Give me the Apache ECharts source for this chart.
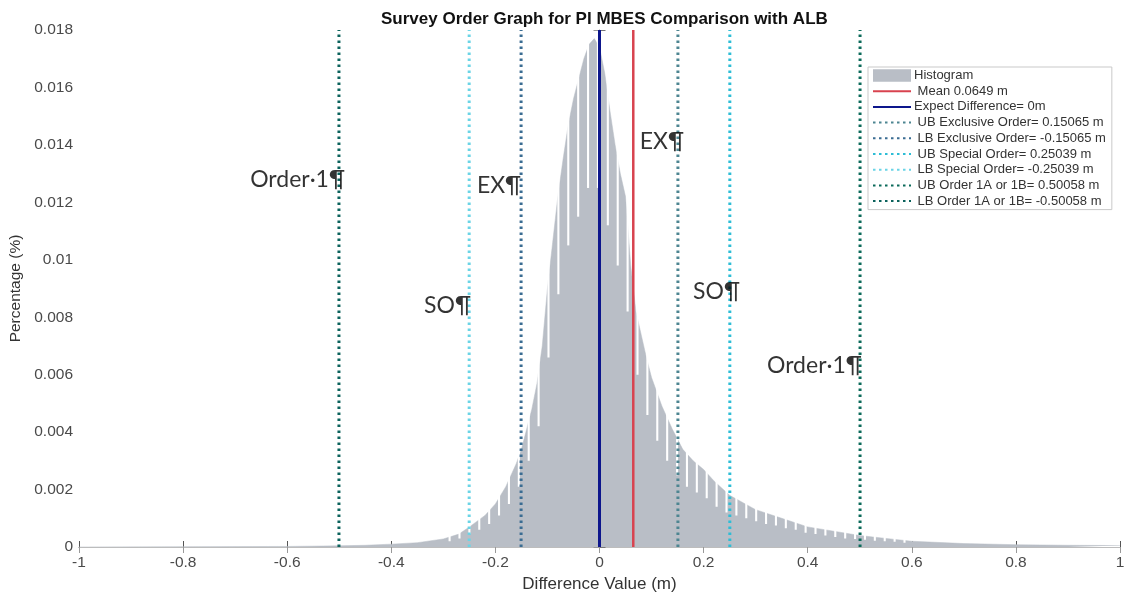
<!DOCTYPE html>
<html>
<head>
<meta charset="utf-8">
<script src="https://cdn.jsdelivr.net/npm/echarts@6/dist/echarts.min.js"></script>
<style>
  html, body { margin: 0; padding: 0; background: #fff; }
  #main { width: 1124px; height: 592px; }
</style>
</head>
<body>
<div id="main"></div>
<script>
// histogram envelope (difference value in m, percentage)
const histX = [-1.0, -0.6, -0.5, -0.45, -0.4, -0.35, -0.3, -0.27, -0.25, -0.22, -0.2, -0.18, -0.16, -0.15,
  -0.14, -0.13, -0.12, -0.11, -0.1, -0.09, -0.08, -0.07, -0.06, -0.05, -0.04, -0.03, -0.02, -0.01,
  0.0, 0.01, 0.02, 0.03, 0.04, 0.05, 0.06, 0.07, 0.08, 0.09, 0.1, 0.12, 0.14, 0.16, 0.18, 0.2,
  0.22, 0.25, 0.28, 0.3, 0.35, 0.4, 0.45, 0.5, 0.55, 0.6, 0.7, 0.8, 0.9, 1.0];
const histY = [0, 0.00002, 0.00004, 0.00006, 0.0001, 0.00015, 0.00028, 0.00045, 0.0007, 0.0011, 0.0015, 0.0021, 0.0029, 0.0034,
  0.0041, 0.0048, 0.0057, 0.007, 0.009, 0.0106, 0.0122, 0.0135, 0.0147, 0.0156, 0.0163, 0.017, 0.0175, 0.0177,
  0.0174, 0.0165, 0.0152, 0.014, 0.013, 0.0122, 0.0098, 0.0082, 0.0074, 0.0066, 0.0059, 0.0049, 0.0041, 0.0034, 0.003, 0.0027,
  0.0023, 0.0018, 0.0015, 0.0013, 0.001, 0.0007, 0.00055, 0.0004, 0.0003, 0.0002, 0.00012, 0.00008, 0.00006, 0.00005];

// near-empty bins that cut the comb pattern into the histogram
const notchX = [-0.288, -0.269, -0.25, -0.231, -0.212, -0.193, -0.174, -0.155, -0.136, -0.117, -0.098, -0.079,
  -0.06, -0.041, -0.022, -0.003, 0.016, 0.035, 0.054, 0.073, 0.092, 0.111, 0.13, 0.149, 0.168, 0.187,
  0.206, 0.225, 0.244, 0.263, 0.282, 0.301, 0.32, 0.339, 0.358, 0.377, 0.396, 0.415, 0.434, 0.453,
  0.472, 0.491, 0.51, 0.529, 0.548, 0.567, 0.586];
const notchY = [0.0002, 0.0003, 0.00045, 0.0006, 0.0008, 0.0011, 0.0015, 0.0021, 0.003, 0.0042, 0.0066, 0.0088,
  0.0105, 0.0115, 0.0125, 0.0125, 0.0112, 0.0098, 0.0082, 0.006, 0.0046, 0.0037, 0.003, 0.0025, 0.0021, 0.0019,
  0.0017, 0.0014, 0.0012, 0.0011, 0.001, 0.0009, 0.0008, 0.00075, 0.00065, 0.0006, 0.0005, 0.00045, 0.0004, 0.00035,
  0.0003, 0.00028, 0.00025, 0.00022, 0.0002, 0.00018, 0.00015];

// reference lines
const lineNames = [' Mean 0.0649 m', 'Expect Difference= 0m',
  ' UB Exclusive Order= 0.15065 m', ' LB Exclusive Order= -0.15065 m',
  ' UB Special Order= 0.25039 m', ' LB Special Order= -0.25039 m',
  ' UB Order 1A or 1B= 0.50058 m', ' LB Order 1A or 1B= -0.50058 m'];
const lineX = [0.0649, 0, 0.15065, -0.15065, 0.25039, -0.25039, 0.50058, -0.50058];
const lineColors = ['#d8434f', '#0d168c', '#4d8591', '#3a6c92', '#2dbdd6', '#6ad4e6', '#0b6a5a', '#0b625c'];

// hand-written notes on the figure
const noteText = ['Order·1¶', 'EX¶', 'SO¶', 'EX¶', 'SO¶', 'Order·1¶'];
const noteX = [-0.58, -0.193, -0.292, 0.12, 0.225, 0.413];
const noteY = [0.0128, 0.0126, 0.0084, 0.0141, 0.0089, 0.0063];

const yMax = 0.018;
const notchW = 0.004;

const chart = echarts.init(document.getElementById('main'));

const series = [];
series.push({
  name: 'Histogram',
  type: 'line',
  data: histX.map((x, i) => [x, histY[i]]),
  showSymbol: false,
  symbol: 'none',
  lineStyle: { width: 0.5, color: '#b9bec6' },
  itemStyle: { color: '#b9bec6' },
  areaStyle: { color: '#b9bec6', opacity: 1 },
  z: 1,
  silent: true
});
series.push({
  name: 'notches',
  type: 'custom',
  data: notchX.map((x, i) => [x, notchY[i]]),
  z: 2,
  silent: true,
  clip: true,
  renderItem: function (params, api) {
    const lo = api.coord([api.value(0), api.value(1)]);
    const hi = api.coord([api.value(0), yMax * 0.995]);
    const w = api.size([notchW, 0])[0];
    return {
      type: 'rect',
      shape: { x: lo[0] - w / 2, y: hi[1], width: w, height: lo[1] - hi[1] },
      style: { fill: '#ffffff' }
    };
  }
});
lineNames.forEach((name, i) => {
  const solid = i < 2;
  series.push({
    name: name,
    type: 'line',
    data: [[lineX[i], 0], [lineX[i], yMax]],
    symbol: 'none',
    z: 3,
    silent: true,
    itemStyle: { color: lineColors[i] },
    lineStyle: {
      color: lineColors[i],
      width: i === 0 ? 2.5 : 3,
      type: solid ? 'solid' : [2.5, 3.5]
    }
  });
});
series.push({
  name: 'notes',
  type: 'scatter',
  data: noteX.map((x, i) => ({ value: [x, noteY[i]], name: noteText[i] })),
  symbolSize: 1,
  itemStyle: { color: 'rgba(0,0,0,0)' },
  z: 6,
  silent: true,
  label: {
    show: true,
    position: 'inside',
    formatter: p => p.name,
    fontFamily: 'Lato',
    fontSize: 23,
    color: '#000'
  }
});

const option = {
  animation: false,
  backgroundColor: '#fff',
  title: {
    text: 'Survey Order Graph for PI MBES Comparison with ALB',
    left: 376,
    top: 6,
    textStyle: { fontFamily: 'Liberation Sans', fontSize: 17, fontWeight: 'bold', color: '#111' }
  },
  legend: {
    orient: 'vertical',
    left: 868,
    top: 67,
    padding: [2, 6, 2, 4],
    itemGap: 2.7,
    itemWidth: 38,
    itemHeight: 12.5,
    backgroundColor: '#fff',
    borderColor: '#c9c9c9',
    borderWidth: 1,
    itemStyle: { opacity: 0 },
    textStyle: { fontFamily: 'Liberation Sans', fontSize: 13, lineHeight: 12.5, color: '#333', padding: [0, 0, 0, -2] },
    data: [{ name: 'Histogram', icon: 'rect', itemStyle: { opacity: 1 } }].concat(lineNames.map(n => ({ name: n })))
  },
  grid: { left: 79, right: 4, top: 30, bottom: 45, outerBoundsMode: 'none', containLabel: false },
  xAxis: [{
    type: 'value',
    min: -1, max: 1, interval: 0.2,
    name: 'Difference Value (m)',
    nameLocation: 'middle',
    nameGap: 29,
    nameTextStyle: { fontFamily: 'Liberation Sans', fontSize: 17, color: '#333' },
    axisLine: { lineStyle: { color: '#8a8a8a', width: 1.2 } },
    axisTick: { inside: true, length: 6, lineStyle: { color: '#555' } },
    axisLabel: { fontFamily: 'Liberation Sans', fontSize: 15.5, color: '#4a4a4a', margin: 8 },
    splitLine: { show: false }
  }, {
    type: 'value',
    position: 'top',
    min: -1, max: 1, interval: 0.2,
    axisLine: { show: true, lineStyle: { color: '#bdbdbd' } },
    axisTick: { inside: true, length: 6, lineStyle: { color: '#999' } },
    axisLabel: { show: false },
    splitLine: { show: false }
  }],
  yAxis: [{
    type: 'value',
    min: 0, max: yMax, interval: 0.002,
    name: 'Percentage (%)',
    nameLocation: 'middle',
    nameGap: 51,
    nameTextStyle: { fontFamily: 'Liberation Sans', fontSize: 15.5, color: '#333' },
    axisLine: { show: true, lineStyle: { color: '#a8a8a8' } },
    axisTick: { show: true, inside: true, length: 6, lineStyle: { color: '#777' } },
    axisLabel: { fontFamily: 'Liberation Sans', fontSize: 15.5, color: '#4a4a4a', margin: 6 },
    splitLine: { show: false }
  }, {
    type: 'value',
    position: 'right',
    min: 0, max: yMax, interval: 0.002,
    axisLine: { show: true, lineStyle: { color: '#bdbdbd' } },
    axisTick: { show: true, inside: true, length: 6, lineStyle: { color: '#999' } },
    axisLabel: { show: false },
    splitLine: { show: false }
  }],
  series: series
};

chart.setOption(option);
</script>
</body>
</html>
